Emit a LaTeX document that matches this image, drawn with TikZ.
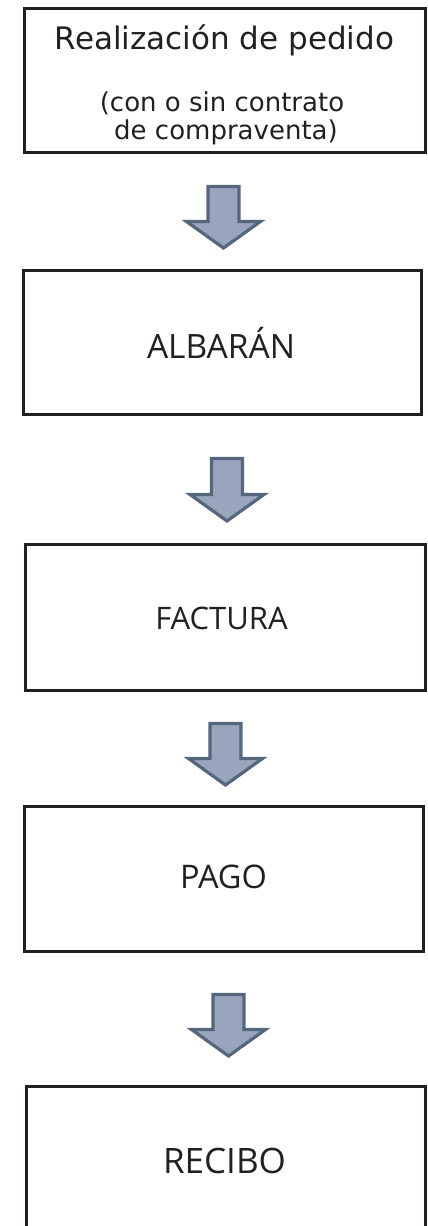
\documentclass[tikz,border=0pt]{standalone}
\usepackage{fontspec}
\setmainfont{Open Sans}
\newfontfamily\verd{DejaVu Sans}
\definecolor{boxline}{HTML}{231F20}
\definecolor{arrline}{HTML}{56677D}
\definecolor{arrfill}{HTML}{98A5BC}
\tikzset{
  stagebox/.style={draw=boxline, line width=3pt, fill=none},
  blockarr/.style={draw=arrline, fill=arrfill, line width=3.2pt, line join=miter},
  lbl/.style={inner sep=0pt, anchor=base, text=boxline},
}
\newcommand{\downblock}[4]{% name, cx, top, tip
  \coordinate (#1) at (#2,#3);
  \draw[blockarr] ([xshift=-15.5pt]#1) -- ([xshift=15.5pt]#1)
    -- ([xshift=15.5pt,yshift=-(#4-#3-26.5)*1pt]#1)
    -- ([xshift=37pt,yshift=-(#4-#3-26.5)*1pt]#1)
    -- ([yshift=-(#4-#3)*1pt]#1)
    -- ([xshift=-37pt,yshift=-(#4-#3-26.5)*1pt]#1)
    -- ([xshift=-15.5pt,yshift=-(#4-#3-26.5)*1pt]#1) -- cycle;
}
\begin{document}
\begin{tikzpicture}[x=1pt,y=-1pt]
\useasboundingbox (0,0) rectangle (428,1226);
% boxes
\draw[stagebox] (24.5,8.5) rectangle (425,152.5);
\node[lbl, font=\verd\fontsize{31}{36}\selectfont] (t1) at (224.5,49) {Realización de pedido};
\node[lbl, font=\verd\fontsize{26}{31}\selectfont] (t1a) at (222,111) {(con o sin contrato};
\node[lbl, font=\verd\fontsize{26}{31}\selectfont] (t1b) at (226,139) {de compraventa)};

\draw[stagebox] (23,270) rectangle (421,414);
\node[lbl, font=\fontsize{33.5}{40}\selectfont] (t2) at (221,358) {ALBARÁN};

\draw[stagebox] (25,544) rectangle (425,690);
\node[lbl, font=\fontsize{31}{37}\selectfont] (t3) at (221.5,629) {FACTURA};

\draw[stagebox] (24,806) rectangle (423,951);
\node[lbl, font=\fontsize{32.5}{39}\selectfont] (t4) at (223.5,888) {PAGO};

\draw[stagebox] (26,1086) rectangle (425,1260);
\node[lbl, font=\fontsize{35}{42}\selectfont] (t5) at (224.5,1173) {RECIBO};

% arrows
\downblock{a1}{223.5}{186.5}{248}
\downblock{a2}{227}{458.5}{521}
\downblock{a3}{225.5}{723.5}{785}
\downblock{a4}{228.5}{994.5}{1056}
\end{tikzpicture}
\end{document}
